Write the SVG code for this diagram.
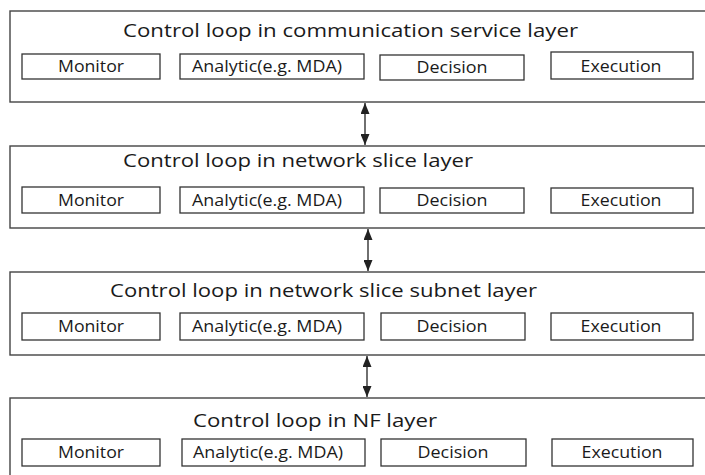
<svg xmlns="http://www.w3.org/2000/svg" width="705" height="475" viewBox="0 0 705 475">
<style>
.outer{fill:#fff;stroke:#444;stroke-width:1.4}
.inner{fill:#fff;stroke:#333;stroke-width:1.3}
.title{font-family:"Open Sans","Noto Sans",sans-serif;font-size:19px;fill:#1a1a1a}
.lbl{font-family:"Open Sans","Noto Sans",sans-serif;font-size:15.5px;fill:#1a1a1a;text-anchor:middle}
.conn{stroke:#333;stroke-width:1.4;fill:none}
</style>
<defs>
<marker id="ah" viewBox="0 0 11 9" refX="11" refY="4.5" markerWidth="11" markerHeight="9" markerUnits="userSpaceOnUse" orient="auto-start-reverse">
<path d="M0,0 L11,4.5 L0,9 z" fill="#222"/>
</marker>
</defs>
<rect width="705" height="475" fill="#fff"/>
<g id="layer-cs">
<rect class="outer" x="10" y="11" width="700" height="91"/>
<text class="title" x="123" y="37" textLength="455" lengthAdjust="spacingAndGlyphs">Control loop in communication service layer</text>
<rect class="inner" x="22" y="54" width="138" height="25"/>
<text class="lbl" x="91" y="72" textLength="66" lengthAdjust="spacingAndGlyphs">Monitor</text>
<rect class="inner" x="180" y="54" width="184" height="25"/>
<text class="lbl" x="267" y="72" textLength="150" lengthAdjust="spacingAndGlyphs">Analytic(e.g. MDA)</text>
<rect class="inner" x="380" y="55" width="144" height="25"/>
<text class="lbl" x="452" y="73" textLength="71" lengthAdjust="spacingAndGlyphs">Decision</text>
<rect class="inner" x="551" y="52" width="142" height="27"/>
<text class="lbl" x="621" y="72" textLength="81" lengthAdjust="spacingAndGlyphs">Execution</text>
</g>
<g id="layer-ns">
<rect class="outer" x="10" y="146" width="700" height="82"/>
<text class="title" x="123" y="167" textLength="350" lengthAdjust="spacingAndGlyphs">Control loop in network slice layer</text>
<rect class="inner" x="22" y="187" width="138" height="26"/>
<text class="lbl" x="91" y="206" textLength="66" lengthAdjust="spacingAndGlyphs">Monitor</text>
<rect class="inner" x="180" y="187" width="184" height="26"/>
<text class="lbl" x="267" y="206" textLength="150" lengthAdjust="spacingAndGlyphs">Analytic(e.g. MDA)</text>
<rect class="inner" x="380" y="188" width="144" height="25"/>
<text class="lbl" x="452" y="206" textLength="71" lengthAdjust="spacingAndGlyphs">Decision</text>
<rect class="inner" x="551" y="188" width="142" height="25"/>
<text class="lbl" x="621" y="206" textLength="81" lengthAdjust="spacingAndGlyphs">Execution</text>
</g>
<g id="layer-nss">
<rect class="outer" x="10" y="272" width="700" height="83"/>
<text class="title" x="110" y="297" textLength="427" lengthAdjust="spacingAndGlyphs">Control loop in network slice subnet layer</text>
<rect class="inner" x="22" y="313" width="138" height="27"/>
<text class="lbl" x="91" y="332" textLength="66" lengthAdjust="spacingAndGlyphs">Monitor</text>
<rect class="inner" x="180" y="313" width="184" height="27"/>
<text class="lbl" x="267" y="332" textLength="150" lengthAdjust="spacingAndGlyphs">Analytic(e.g. MDA)</text>
<rect class="inner" x="381" y="313" width="144" height="27"/>
<text class="lbl" x="452" y="332" textLength="71" lengthAdjust="spacingAndGlyphs">Decision</text>
<rect class="inner" x="551" y="313" width="142" height="27"/>
<text class="lbl" x="621" y="332" textLength="81" lengthAdjust="spacingAndGlyphs">Execution</text>
</g>
<g id="layer-nf">
<rect class="outer" x="10" y="398" width="700" height="90"/>
<text class="title" x="193" y="427" textLength="244" lengthAdjust="spacingAndGlyphs">Control loop in NF layer</text>
<rect class="inner" x="22" y="439" width="138" height="27"/>
<text class="lbl" x="91" y="458" textLength="66" lengthAdjust="spacingAndGlyphs">Monitor</text>
<rect class="inner" x="182" y="439" width="183" height="27"/>
<text class="lbl" x="268" y="458" textLength="150" lengthAdjust="spacingAndGlyphs">Analytic(e.g. MDA)</text>
<rect class="inner" x="381" y="439" width="145" height="27"/>
<text class="lbl" x="453" y="458" textLength="71" lengthAdjust="spacingAndGlyphs">Decision</text>
<rect class="inner" x="552" y="439" width="141" height="27"/>
<text class="lbl" x="622" y="458" textLength="81" lengthAdjust="spacingAndGlyphs">Execution</text>
</g>
<g id="connectors">
<line class="conn" x1="365" y1="103" x2="365" y2="145" marker-start="url(#ah)" marker-end="url(#ah)"/>
<line class="conn" x1="368" y1="229" x2="368" y2="271" marker-start="url(#ah)" marker-end="url(#ah)"/>
<line class="conn" x1="367" y1="356" x2="367" y2="397" marker-start="url(#ah)" marker-end="url(#ah)"/>
</g>
</svg>
